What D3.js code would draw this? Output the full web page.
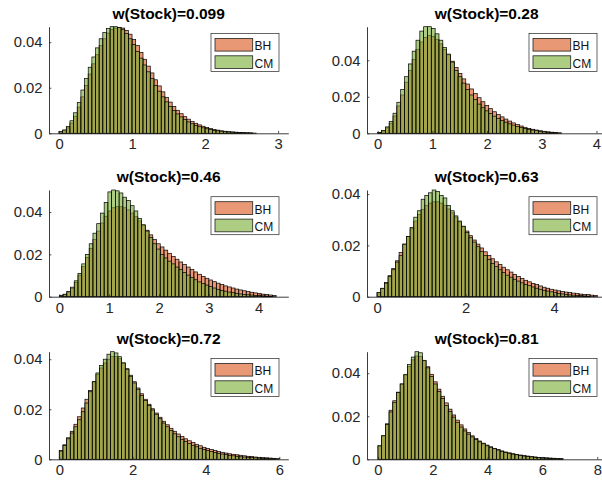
<!DOCTYPE html>
<html>
<head>
<meta charset="utf-8">
<script src="https://cdn.jsdelivr.net/npm/d3@7"></script>
<style>
  body { margin: 0; background: #fff; }
  svg { display: block; }
</style>
</head>
<body>
<script>
// Stock weight shown in each panel title
const weights = ["0.099", "0.28", "0.46", "0.63", "0.72", "0.81"];
const seriesNames = ["BH", "CM"];

// Histogram bins: first edge and width per panel
const binStarts = [0, 0, 0, 0, 0, 0];
const binWidths = [0.05, 0.07, 0.075, 0.083, 0.1, 0.135];

// Axis limits and tick values per panel
const xLimits = [[-0.137, 3.14], [-0.196, 4.18], [-0.207, 4.594], [-0.227, 5.18], [-0.28, 6.245], [-0.40, 8.33]];
const xTicks = [[0, 1, 2, 3], [0, 1, 2, 3, 4], [0, 1, 2, 3, 4], [0, 2, 4], [0, 2, 4, 6], [0, 2, 4, 6, 8]];
const yTicks = [0, 0.02, 0.04];

// Bin probabilities, buy-and-hold (BH) and constant-mix (CM)
const bh1 = [0.0006,0.0012,0.0024,0.0045,0.0075,0.0115,0.016,0.021,0.026,0.0305,0.0345,0.0385,0.0415,0.044,0.0455,0.0462,0.0465,0.0462,0.0452,0.0435,0.0412,0.0385,0.0355,0.0325,0.0295,0.0265,0.0235,0.0208,0.0182,0.0158,0.0137,0.0118,0.0101,0.0086,0.0073,0.0062,0.0052,0.0044,0.0037,0.0031,0.0026,0.0021,0.0017,0.0014,0.0011,0.0009,0.0007,0.0006,0.0005,0.0004,0.0003,0.0002,0.0002,0.0001];
const cm1 = [0.0008,0.0015,0.003,0.0055,0.009,0.0135,0.019,0.024,0.029,0.0335,0.0375,0.0415,0.0442,0.046,0.0468,0.0468,0.0465,0.0455,0.0438,0.0415,0.039,0.036,0.033,0.030,0.027,0.024,0.021,0.0185,0.016,0.0138,0.0118,0.010,0.0085,0.0072,0.006,0.005,0.0042,0.0035,0.0029,0.0024,0.002,0.0016,0.0013,0.0011,0.0009,0.0007,0.0006,0.0005,0.0004,0.0003,0.0002,0.0002,0.0001];

const bh2 = [0.0004,0.0012,0.003,0.0055,0.0095,0.015,0.021,0.028,0.0345,0.0405,0.046,0.050,0.0525,0.0535,0.053,0.0515,0.049,0.046,0.043,0.0395,0.036,0.0328,0.0298,0.027,0.0243,0.0218,0.0195,0.0173,0.0153,0.0135,0.0118,0.0103,0.009,0.0078,0.0067,0.0057,0.0048,0.004,0.0033,0.0027,0.0022,0.0018,0.0014,0.0011,0.0008,0.0006,0.0004,0.0003];
const cm2 = [0.0005,0.0015,0.0035,0.0065,0.011,0.017,0.024,0.031,0.038,0.045,0.051,0.056,0.0584,0.0584,0.0575,0.0545,0.051,0.047,0.0434,0.039,0.0345,0.031,0.0275,0.024,0.021,0.0185,0.016,0.014,0.0123,0.0108,0.0094,0.0082,0.0071,0.0061,0.0052,0.0045,0.0038,0.0032,0.0027,0.0022,0.0018,0.0014,0.0011,0.0008,0.0006,0.0004,0.0003];

const bh3 = [0.0004,0.001,0.0022,0.004,0.0068,0.0102,0.0142,0.0185,0.0228,0.027,0.031,0.0348,0.038,0.0405,0.042,0.0425,0.0425,0.042,0.041,0.0395,0.0378,0.0358,0.0336,0.0314,0.0292,0.027,0.025,0.0235,0.022,0.0205,0.019,0.0177,0.0164,0.0152,0.014,0.0128,0.0117,0.0106,0.0096,0.0087,0.0079,0.0071,0.0064,0.0057,0.0051,0.0046,0.0041,0.0036,0.0032,0.0028,0.0024,0.0021,0.0018,0.0015,0.0012,0.001,0.0008,0.0006];
const cm3 = [0.0005,0.0012,0.0025,0.0045,0.0075,0.011,0.0155,0.020,0.025,0.030,0.0345,0.0395,0.0445,0.0495,0.0504,0.050,0.049,0.047,0.0455,0.043,0.0405,0.037,0.034,0.031,0.028,0.025,0.0225,0.020,0.0183,0.0168,0.0155,0.014,0.0128,0.0115,0.0102,0.009,0.008,0.007,0.0062,0.0055,0.0048,0.0041,0.0035,0.003,0.0026,0.0022,0.0019,0.0016,0.0013,0.0011,0.0009,0.0008,0.0006,0.0005,0.0004,0.0003,0.0002];

const bh4 = [0.0015,0.0032,0.0055,0.0082,0.011,0.014,0.0172,0.0205,0.0235,0.0265,0.0295,0.032,0.034,0.0355,0.0365,0.037,0.037,0.0365,0.0355,0.0342,0.0327,0.031,0.0292,0.0274,0.0256,0.0238,0.0221,0.0205,0.019,0.0175,0.0161,0.0148,0.0136,0.0125,0.0115,0.0105,0.0096,0.0087,0.0079,0.0071,0.0064,0.0058,0.0052,0.0047,0.0042,0.0037,0.0033,0.0029,0.0026,0.0023,0.002,0.0018,0.0016,0.0014,0.0012,0.001,0.0009,0.0008,0.0006,0.0005];
const cm4 = [0.0017,0.0033,0.0053,0.0078,0.0105,0.0135,0.016,0.0205,0.0235,0.027,0.031,0.0335,0.038,0.0395,0.0405,0.0416,0.041,0.0395,0.0385,0.0355,0.0335,0.0315,0.0295,0.0275,0.025,0.023,0.0213,0.0195,0.0177,0.016,0.0145,0.013,0.0117,0.0105,0.0094,0.0084,0.0076,0.0068,0.0061,0.0054,0.0048,0.0043,0.0038,0.0033,0.0029,0.0025,0.0022,0.0019,0.0016,0.0013,0.0011,0.0009,0.0007,0.0006,0.0005,0.0004,0.0003,0.0002];

const bh5 = [0.0035,0.0058,0.0086,0.0112,0.014,0.017,0.0205,0.024,0.0275,0.031,0.034,0.0365,0.0385,0.040,0.041,0.041,0.0402,0.0385,0.0362,0.0336,0.031,0.0285,0.0262,0.024,0.022,0.0202,0.0185,0.0168,0.0152,0.0138,0.0124,0.0112,0.0101,0.0091,0.0082,0.0074,0.0067,0.006,0.0054,0.0048,0.0043,0.0039,0.0035,0.0031,0.0028,0.0025,0.0022,0.002,0.0018,0.0016,0.0014,0.0012,0.0011,0.0009,0.0008,0.0007,0.0006,0.0005,0.0004,0.0003];
const cm5 = [0.0033,0.0055,0.0082,0.0105,0.013,0.0158,0.019,0.0225,0.027,0.031,0.0345,0.0375,0.040,0.042,0.043,0.0425,0.041,0.0385,0.036,0.0332,0.0305,0.028,0.0255,0.0235,0.0215,0.0197,0.018,0.0162,0.0145,0.013,0.0115,0.0102,0.009,0.008,0.0071,0.0063,0.0056,0.005,0.0044,0.0039,0.0035,0.0031,0.0027,0.0024,0.0021,0.0019,0.0016,0.0014,0.0012,0.001,0.0009,0.0008,0.0007,0.0006,0.0005,0.0004,0.0003,0.0002,0.0002];

const bh6 = [0.006,0.0108,0.0165,0.0228,0.0272,0.0312,0.035,0.0392,0.0432,0.0462,0.048,0.0478,0.0458,0.043,0.0395,0.036,0.0326,0.0293,0.0262,0.0233,0.0206,0.0182,0.016,0.0141,0.0124,0.0109,0.0096,0.0085,0.0075,0.0066,0.0058,0.0051,0.0045,0.0039,0.0034,0.003,0.0026,0.0023,0.002,0.0017,0.0015,0.0013,0.0011,0.0009,0.0008,0.0007,0.0006,0.0005,0.0004,0.0003];
const cm6 = [0.0065,0.011,0.0162,0.022,0.0265,0.031,0.035,0.0395,0.044,0.0475,0.050,0.0495,0.046,0.0425,0.0385,0.035,0.0315,0.0282,0.025,0.0222,0.0196,0.0172,0.015,0.0132,0.0117,0.0104,0.0092,0.0081,0.0072,0.0063,0.0056,0.0049,0.0043,0.0037,0.0032,0.0028,0.0024,0.0021,0.0018,0.0015,0.0013,0.0011,0.0009,0.0008,0.0006,0.0005,0.0004,0.0003,0.0002,0.0002];

const bhSeries = [bh1, bh2, bh3, bh4, bh5, bh6];
const cmSeries = [cm1, cm2, cm3, cm4, cm5, cm6];

// MATLAB-style colours, drawn with face alpha
const colors = ["rgb(217,83,25)", "rgb(119,172,48)"];
const faceAlpha = 0.6;
const font = "'Liberation Sans', Arial, Helvetica, sans-serif";
const ink = "#262626";

const W = 602, H = 488;
const colX = [[49, 288.3], [367, 606.3]];
const rowY = [[26.7, 133.3], [190, 296.7], [351.7, 459.3]];

const svg = d3.select("body").append("svg")
  .attr("width", W).attr("height", H)
  .style("background", "#fff");

weights.forEach((w, i) => {
  const [x0, x1] = colX[i % 2];
  const [y0, y1] = rowY[Math.floor(i / 2)];
  const series = [bhSeries[i], cmSeries[i]];
  const yMax = d3.max(series, s => d3.max(s));

  const xs = d3.scaleLinear().domain(xLimits[i]).range([x0, x1]);
  const ys = d3.scaleLinear().domain([0, yMax]).range([y1, y0]);

  const g = svg.append("g");

  // histogram bars, BH first, CM drawn over it
  series.forEach((vals, k) => {
    const bins = vals.map((v, j) => ({
      lo: binStarts[i] + j * binWidths[i],
      hi: binStarts[i] + (j + 1) * binWidths[i],
      v
    }));
    g.append("g").selectAll("rect").data(bins).join("rect")
      .attr("x", d => xs(d.lo))
      .attr("width", d => xs(d.hi) - xs(d.lo))
      .attr("y", d => ys(d.v))
      .attr("height", d => ys(0) - ys(d.v))
      .attr("fill", colors[k])
      .attr("fill-opacity", faceAlpha)
      .attr("stroke", "#000")
      .attr("stroke-width", 0.7);
  });

  // axes with inward ticks
  const yAxis = d3.axisLeft(ys).tickValues(yTicks)
    .tickSizeInner(-2.4).tickSizeOuter(0).tickPadding(6.5)
    .tickFormat(d => d === 0 ? "0" : d3.format(".2f")(d));
  const xAxis = d3.axisBottom(xs).tickValues(xTicks[i])
    .tickSizeInner(-2.4).tickSizeOuter(0).tickPadding(5.5)
    .tickFormat(d3.format("d"));

  [[yAxis, `translate(${x0},0)`], [xAxis, `translate(0,${y1})`]].forEach(([ax, tr]) => {
    const a = g.append("g").attr("transform", tr).call(ax)
      .attr("font-family", font).attr("font-size", 14.8).attr("color", ink);
    a.select(".domain").attr("stroke-width", 0.9);
    a.selectAll(".tick line").attr("stroke-width", 0.8);
  });

  // title
  svg.append("text")
    .attr("x", (x0 + x1) / 2).attr("y", y0 - 7.6)
    .attr("text-anchor", "middle")
    .attr("font-family", font).attr("font-weight", "bold").attr("font-size", 15.5)
    .attr("fill", "#000")
    .text(`w(Stock)=${w}`);

  // legend
  const lg = svg.append("g").attr("transform", `translate(${x1 - 77.3},${y0 + 6.7})`);
  lg.append("rect").attr("width", 68).attr("height", 38)
    .attr("fill", "#fff").attr("stroke", ink).attr("stroke-width", 0.7);
  seriesNames.forEach((name, k) => {
    lg.append("rect")
      .attr("x", 4).attr("y", 5 + k * 17.4)
      .attr("width", 37.7).attr("height", 12.7)
      .attr("fill", colors[k]).attr("fill-opacity", faceAlpha)
      .attr("stroke", "#222").attr("stroke-width", 0.8);
    lg.append("text")
      .attr("x", 43.5).attr("y", 17 + k * 17.8)
      .attr("font-family", font).attr("font-size", 12)
      .attr("fill", "#111")
      .text(name);
  });
});
</script>
</body>
</html>
